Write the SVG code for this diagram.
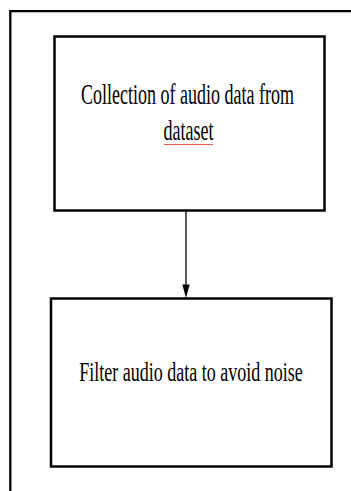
<svg xmlns="http://www.w3.org/2000/svg" width="351" height="491" viewBox="0 0 351 491">
<style>
.box{fill:#fff;stroke:#000;stroke-width:2.5}
.lbl{font-family:"Liberation Serif","Times New Roman",serif;font-size:18px;fill:#000;text-anchor:middle}
.frame{fill:none;stroke:#000;stroke-width:2.3}
.conn{stroke:#000;stroke-width:1.3;fill:none}
</style>
<rect width="351" height="491" fill="#fff"/>
<path class="frame" d="M10.3,491 V11.2 H351"/>
<g id="connectors">
<line class="conn" x1="186" y1="211" x2="186" y2="286"/>
<polygon points="182.3,284.5 189.7,284.5 186,298" fill="#000"/>
</g>
<g id="node1">
<rect class="box" x="54.5" y="36.5" width="270" height="174"/>
<text class="lbl" transform="translate(187.5,104) scale(1,1.6)">Collection of audio data from</text>
<text class="lbl" transform="translate(188.5,140) scale(1,1.6)">dataset</text>
<path d="M164,145 l1,-1 l1,1 l1,-1 l1,1 l1,-1 l1,1 l1,-1 l1,1 l1,-1 l1,1 l1,-1 l1,1 l1,-1 l1,1 l1,-1 l1,1 l1,-1 l1,1 l1,-1 l1,1 l1,-1 l1,1 l1,-1 l1,1 l1,-1 l1,1 l1,-1 l1,1 l1,-1 l1,1 l1,-1 l1,1 l1,-1 l1,1 l1,-1 l1,1 l1,-1 l1,1 l1,-1 l1,1 l1,-1 l1,1 l1,-1 l1,1 l1,-1 l1,1 l1,-1 l1,1 l1,-1" fill="none" stroke="#e03030" stroke-width="0.8"/>
</g>
<g id="node2">
<rect class="box" x="51" y="298.5" width="280.5" height="168"/>
<text class="lbl" transform="translate(191,381) scale(1,1.55)">Filter audio data to avoid noise</text>
</g>
</svg>
